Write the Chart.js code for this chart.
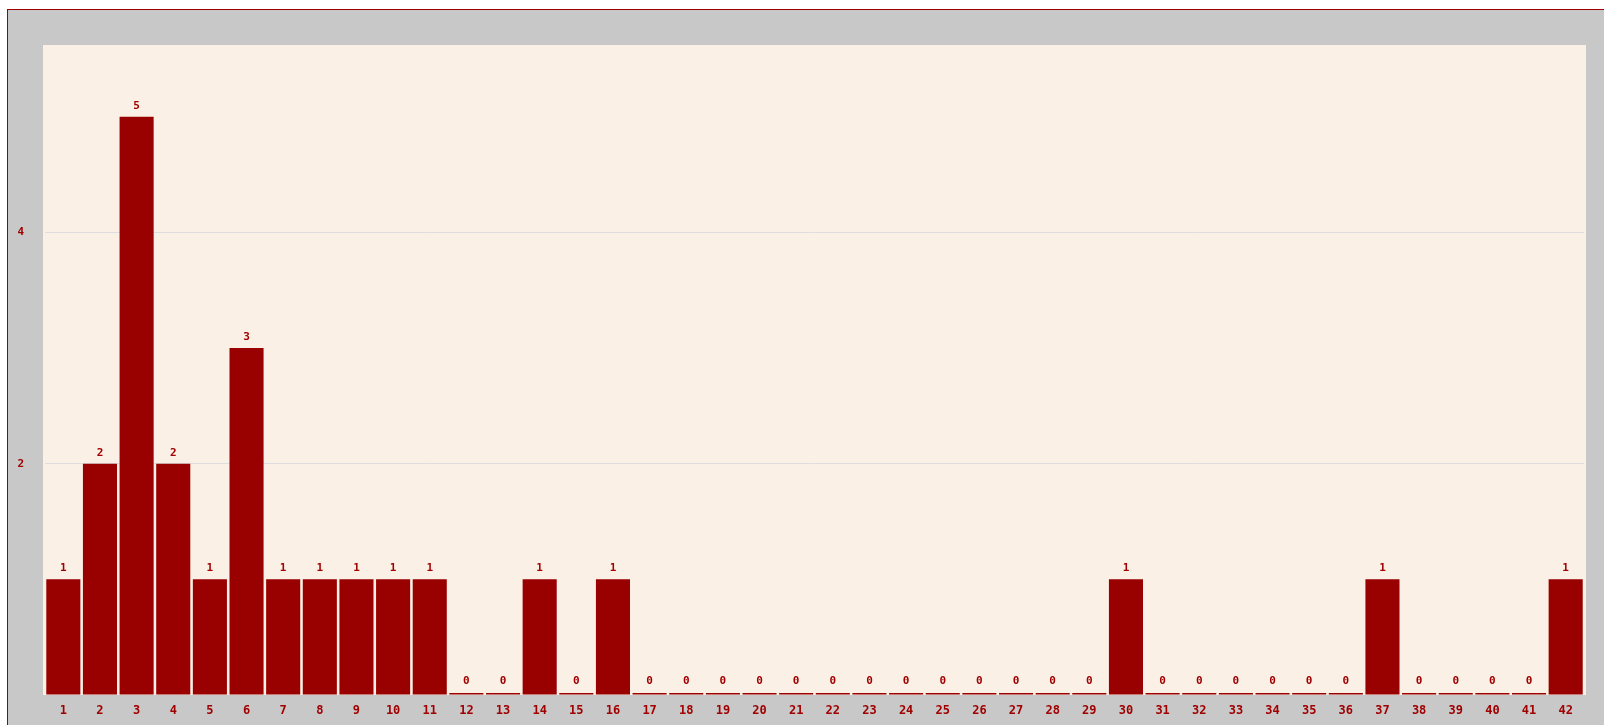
<!DOCTYPE html>
<html>
<head>
<meta charset="utf-8">
<script src="https://cdn.jsdelivr.net/npm/chart.js@4"></script>
<style>
    html, body { margin: 0; padding: 0; background: #ffffff; }
    #frame {
        position: absolute;
        left: 7px;
        top: 9px;
        width: 1596px;
        height: 715px;
        border-left: 1px solid #a00000;
        border-top: 1px solid #a00000;
        background: #c8c8c8;
    }
    #chart { display: block; }
</style>
</head>
<body>
<div id="frame"><canvas id="chart" width="1596" height="715"></canvas></div>
<script>
// ===== DATA =====
const categories = ['1','2','3','4','5','6','7','8','9','10','11','12','13','14','15','16','17','18','19','20','21',
    '22','23','24','25','26','27','28','29','30','31','32','33','34','35','36','37','38','39','40','41','42'];
const counts = [1, 2, 5, 2, 1, 3, 1, 1, 1, 1, 1, 0, 0, 1, 0, 1, 0, 0, 0, 0, 0,
    0, 0, 0, 0, 0, 0, 0, 0, 1, 0, 0, 0, 0, 0, 0, 1, 0, 0, 0, 0, 1];
const yTickValues = [2, 4];

const barColor = '#990000';
const textColor = '#a00000';
const fontFamily = "'DejaVu Sans Mono', monospace";

// paint the linen plot background
const plotBackground = {
    id: 'plotBackground',
    beforeDraw(chart) {
        const { ctx, chartArea } = chart;
        ctx.save();
        ctx.fillStyle = '#faf0e6';
        ctx.fillRect(chartArea.left - 2, chartArea.top, chartArea.width + 4, chartArea.height);
        ctx.restore();
    }
};

// value labels above each bar
const valueLabels = {
    id: 'valueLabels',
    afterDatasetsDraw(chart) {
        const { ctx } = chart;
        const meta = chart.getDatasetMeta(0);
        ctx.save();
        ctx.fillStyle = textColor;
        ctx.font = 'bold 11px ' + fontFamily;
        ctx.textAlign = 'center';
        ctx.textBaseline = 'middle';
        meta.data.forEach((bar, i) => {
            const top = Math.min(bar.y, bar.base - 2);
            ctx.fillText(String(counts[i]), bar.x, top - 11);
        });
        ctx.restore();
    }
};

const chart = new Chart(document.getElementById('chart'), {
    type: 'bar',
    data: {
        labels: categories,
        datasets: [{
            data: counts,
            backgroundColor: barColor,
            borderWidth: 0,
            minBarLength: 2,
            categoryPercentage: 1,
            barPercentage: 0.93
        }]
    },
    options: {
        responsive: false,
        animation: false,
        layout: { padding: { top: 35, right: 20, left: 0, bottom: 0 } },
        plugins: {
            legend: { display: false },
            tooltip: { enabled: false }
        },
        scales: {
            x: {
                grid: { display: false, drawTicks: false },
                border: { display: false },
                ticks: {
                    color: textColor,
                    font: { family: fontFamily, size: 12, weight: 'bold' },
                    padding: 9,
                    maxRotation: 0,
                    autoSkip: false
                },
                afterFit(scale) { scale.height = 30; }
            },
            y: {
                min: 0,
                max: 5.62,
                grid: {
                    drawTicks: false,
                    color: ctx => yTickValues.includes(ctx.tick.value) ? '#dedede' : 'rgba(0,0,0,0)'
                },
                border: { display: false },
                ticks: {
                    stepSize: 2,
                    includeBounds: false,
                    color: textColor,
                    font: { family: fontFamily, size: 11, weight: 'bold' },
                    padding: 21,
                    callback: v => yTickValues.includes(v) ? String(v) : ''
                },
                afterFit(scale) { scale.width = 37; }
            }
        }
    },
    plugins: [plotBackground, valueLabels]
});
</script>
</body>
</html>
